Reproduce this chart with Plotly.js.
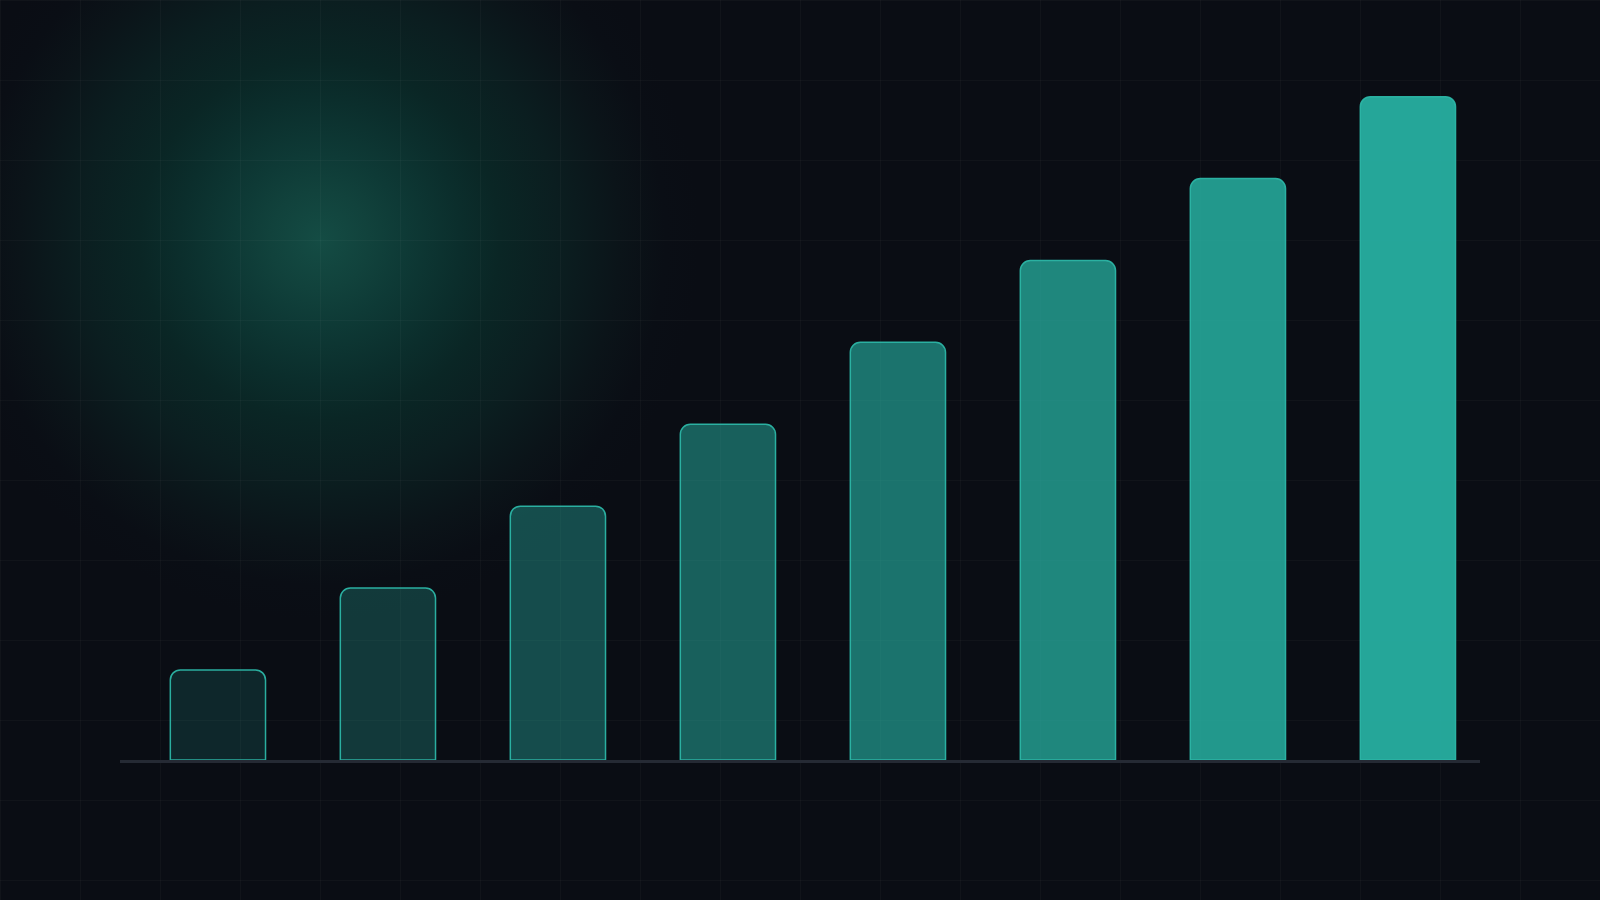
<!DOCTYPE html>
<html>
<head>
<meta charset="utf-8">
<script src="https://cdn.plot.ly/plotly-3.0.1.min.js"></script>
<style>
  html, body { margin: 0; padding: 0; width: 1600px; height: 900px; overflow: hidden; }
  body {
    background-color: #0a0d14;
    background-image:
      linear-gradient(to right, rgba(255,255,255,0.028) 1px, transparent 1px),
      linear-gradient(to bottom, rgba(255,255,255,0.028) 1px, transparent 1px),
      radial-gradient(circle at 320px 240px, rgb(20,76,68) 0px, rgb(17,66,60) 50px, rgb(14,58,54) 85px, rgb(11,46,44) 140px, rgb(10,38,37) 180px, rgb(11,30,32) 240px, rgb(11,20,25) 300px, rgb(10,14,21) 345px, rgb(10,13,20) 380px);
    background-size: 80px 80px, 80px 80px, 100% 100%;
    background-repeat: repeat, repeat, no-repeat;
  }
  #chart { width: 1600px; height: 900px; }
</style>
</head>
<body>
<div id="chart"></div>
<script>
// data
const categories = [0, 1, 2, 3, 4, 5, 6, 7];
const values = [11, 21, 31, 41, 51, 61, 71, 81];
// style: fill opacity per bar
const fillOpacity = [0.17, 0.28, 0.40, 0.52, 0.64, 0.76, 0.87, 0.96];

const teal = [38, 173, 159];
const fillColors = fillOpacity.map(a => `rgba(${teal[0]},${teal[1]},${teal[2]},${a})`);

const trace = {
  type: 'bar',
  x: categories,
  y: values,
  width: 0.56,
  marker: {
    color: fillColors,
    cornerradius: 10,
    line: { color: 'rgba(44,182,166,0.95)', width: 1.5 }
  },
  hoverinfo: 'skip'
};

const layout = {
  width: 1600,
  height: 900,
  margin: { l: 120, r: 120, t: 23, b: 140 },
  paper_bgcolor: 'rgba(0,0,0,0)',
  plot_bgcolor: 'rgba(0,0,0,0)',
  showlegend: false,
  xaxis: {
    range: [-0.576, 7.424],
    showgrid: false, zeroline: false, showticklabels: false, showline: false, ticks: ''
  },
  yaxis: {
    range: [0, 90],
    showgrid: false, zeroline: false, showticklabels: false, showline: false, ticks: ''
  },
  shapes: [{
    type: 'line', xref: 'paper', yref: 'paper',
    x0: 0, x1: 1, y0: -0.002, y1: -0.002,
    line: { color: '#252a34', width: 3 },
    layer: 'below'
  }]
};

Plotly.newPlot('chart', [trace], layout, { staticPlot: true, displayModeBar: false });
</script>
</body>
</html>
